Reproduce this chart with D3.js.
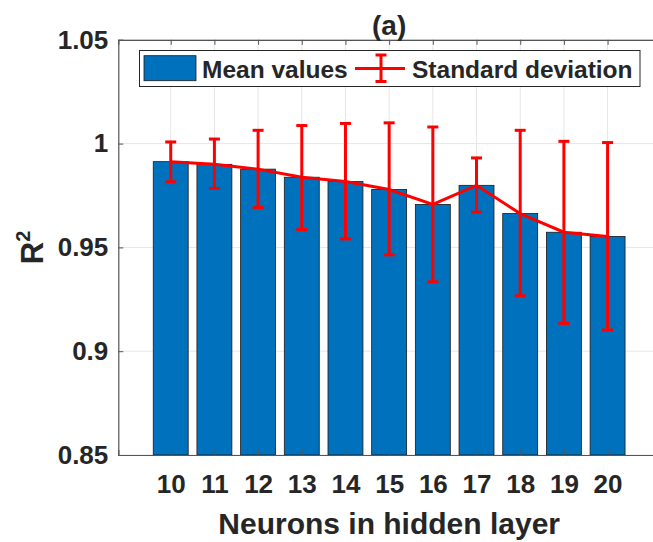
<!DOCTYPE html>
<html>
<head>
<meta charset="utf-8">
<script src="https://cdn.jsdelivr.net/npm/d3@7"></script>
<style>
  body { margin: 0; background: #fff; }
  text { font-family: "Liberation Sans", Arial, sans-serif; font-weight: bold; fill: #262626; }
</style>
</head>
<body>
<svg id="chart" width="653" height="542"></svg>
<script>
// neurons in hidden layer
var neurons = [10, 11, 12, 13, 14, 15, 16, 17, 18, 19, 20];
// mean R^2 values
var meanValues = [0.9913, 0.9900, 0.9877, 0.9838, 0.9817, 0.9779, 0.9707, 0.9799, 0.9663, 0.9573, 0.9553];
// error bar ends
var errUpper = [1.0008, 1.0022, 1.0064, 1.0087, 1.0097, 1.0100, 1.0080, 0.9931, 1.0064, 1.0011, 1.0005];
var errLower = [0.9816, 0.9784, 0.9692, 0.9586, 0.9541, 0.9464, 0.9334, 0.9670, 0.9267, 0.9134, 0.9102];
var yTicks = [0.85, 0.9, 0.95, 1, 1.05];

var svg = d3.select('#chart');

var x = d3.scaleLinear().domain([8.8, 21.2]).range([118.3, 660]);
var y = d3.scaleLinear().domain([0.85, 1.05]).range([455, 39.8]);
var barW = (x(11) - x(10)) * 0.8;

// grid
var grid = svg.append('g').attr('stroke', '#e6e6e6').attr('stroke-width', 1);
grid.selectAll('line.gx').data(neurons).enter().append('line')
    .attr('x1', function (d) { return x(d); }).attr('x2', function (d) { return x(d); })
    .attr('y1', y(0.85)).attr('y2', y(1.05));
grid.selectAll('line.gy').data(yTicks).enter().append('line')
    .attr('x1', x(8.8)).attr('x2', x(21.2))
    .attr('y1', function (d) { return y(d); }).attr('y2', function (d) { return y(d); });

// bars
svg.append('g').selectAll('rect').data(neurons).enter().append('rect')
    .attr('x', function (d) { return x(d) - barW / 2; })
    .attr('y', function (d, i) { return y(meanValues[i]); })
    .attr('width', barW)
    .attr('height', function (d, i) { return y(0.85) - y(meanValues[i]); })
    .attr('fill', '#0072bd')
    .attr('stroke', '#1a1a1a')
    .attr('stroke-width', 0.8);

// axes
var xAxisB = d3.axisBottom(x).tickValues(neurons).tickSize(-5).tickPadding(20).tickFormat(d3.format('d'));
var xAxisT = d3.axisTop(x).tickValues(neurons).tickSize(-5).tickFormat('');
var yAxisL = d3.axisLeft(y).tickValues(yTicks).tickSize(-5).tickPadding(10).tickFormat(function (d) { return d3.format('')(d); });

function styleAxis(g) {
    g.select('.domain').attr('stroke', '#555').attr('stroke-width', 1.2);
    g.selectAll('.tick line').attr('stroke', '#555');
    g.selectAll('.tick text').attr('font-size', 26).attr('fill', '#262626')
        .attr('font-family', '"Liberation Sans", Arial, sans-serif').attr('font-weight', 'bold');
}

svg.append('g').attr('transform', 'translate(0,' + y(0.85) + ')').call(xAxisB).call(styleAxis);
svg.append('g').attr('transform', 'translate(0,' + y(1.05) + ')').call(xAxisT).call(styleAxis);
svg.append('g').attr('transform', 'translate(' + x(8.8) + ',0)').call(yAxisL).call(styleAxis);

// mean line and error bars
var red = '#ff0000';
var line = d3.line()
    .x(function (d) { return x(d); })
    .y(function (d, i) { return y(meanValues[i]); });
svg.append('path').datum(neurons).attr('d', line)
    .attr('fill', 'none').attr('stroke', red).attr('stroke-width', 3);

var eb = svg.append('g').attr('stroke', red).attr('stroke-width', 3);
eb.selectAll('line.v').data(neurons).enter().append('line')
    .attr('x1', function (d) { return x(d); }).attr('x2', function (d) { return x(d); })
    .attr('y1', function (d, i) { return y(errUpper[i]); })
    .attr('y2', function (d, i) { return y(errLower[i]); });
[errUpper, errLower].forEach(function (arr) {
    eb.selectAll(null).data(neurons).enter().append('line')
        .attr('x1', function (d) { return x(d) - 5.5; }).attr('x2', function (d) { return x(d) + 5.5; })
        .attr('y1', function (d, i) { return y(arr[i]); })
        .attr('y2', function (d, i) { return y(arr[i]); });
});

// legend
var lg = svg.append('g');
lg.append('rect').attr('x', 139.5).attr('y', 50.5).attr('width', 500.5).attr('height', 36)
    .attr('fill', '#fff').attr('stroke', '#262626').attr('stroke-width', 1);
lg.append('rect').attr('x', 144).attr('y', 55.7).attr('width', 52).attr('height', 25)
    .attr('fill', '#0072bd').attr('stroke', '#1a1a1a').attr('stroke-width', 0.8);
lg.append('text').attr('x', 202).attr('y', 77.5).attr('font-size', 24.5).attr('fill', '#000').text('Mean values');
lg.append('line').attr('x1', 355).attr('x2', 405).attr('y1', 68.5).attr('y2', 68.5)
    .attr('stroke', red).attr('stroke-width', 3);
lg.append('line').attr('x1', 381).attr('x2', 381).attr('y1', 55).attr('y2', 81.5)
    .attr('stroke', red).attr('stroke-width', 3);
lg.append('line').attr('x1', 375.5).attr('x2', 386.5).attr('y1', 55).attr('y2', 55)
    .attr('stroke', red).attr('stroke-width', 3);
lg.append('line').attr('x1', 375.5).attr('x2', 386.5).attr('y1', 81.5).attr('y2', 81.5)
    .attr('stroke', red).attr('stroke-width', 3);
lg.append('text').attr('x', 412).attr('y', 77.5).attr('font-size', 24.5).attr('fill', '#000').text('Standard deviation');

// title and labels
svg.append('text').attr('x', (x(8.8) + x(21.2)) / 2).attr('y', 35).attr('text-anchor', 'middle')
    .attr('font-size', 28).attr('fill', '#000').text('(a)');
svg.append('text').attr('x', (x(8.8) + x(21.2)) / 2).attr('y', 534).attr('text-anchor', 'middle')
    .attr('font-size', 30).text('Neurons in hidden layer');
var yl = svg.append('text').attr('transform', 'translate(43,' + y(0.95) + ') rotate(-90)')
    .attr('text-anchor', 'middle').attr('font-size', 31);
yl.append('tspan').text('R');
yl.append('tspan').attr('font-size', 20).attr('dy', -13).text('2');
</script>
</body>
</html>
